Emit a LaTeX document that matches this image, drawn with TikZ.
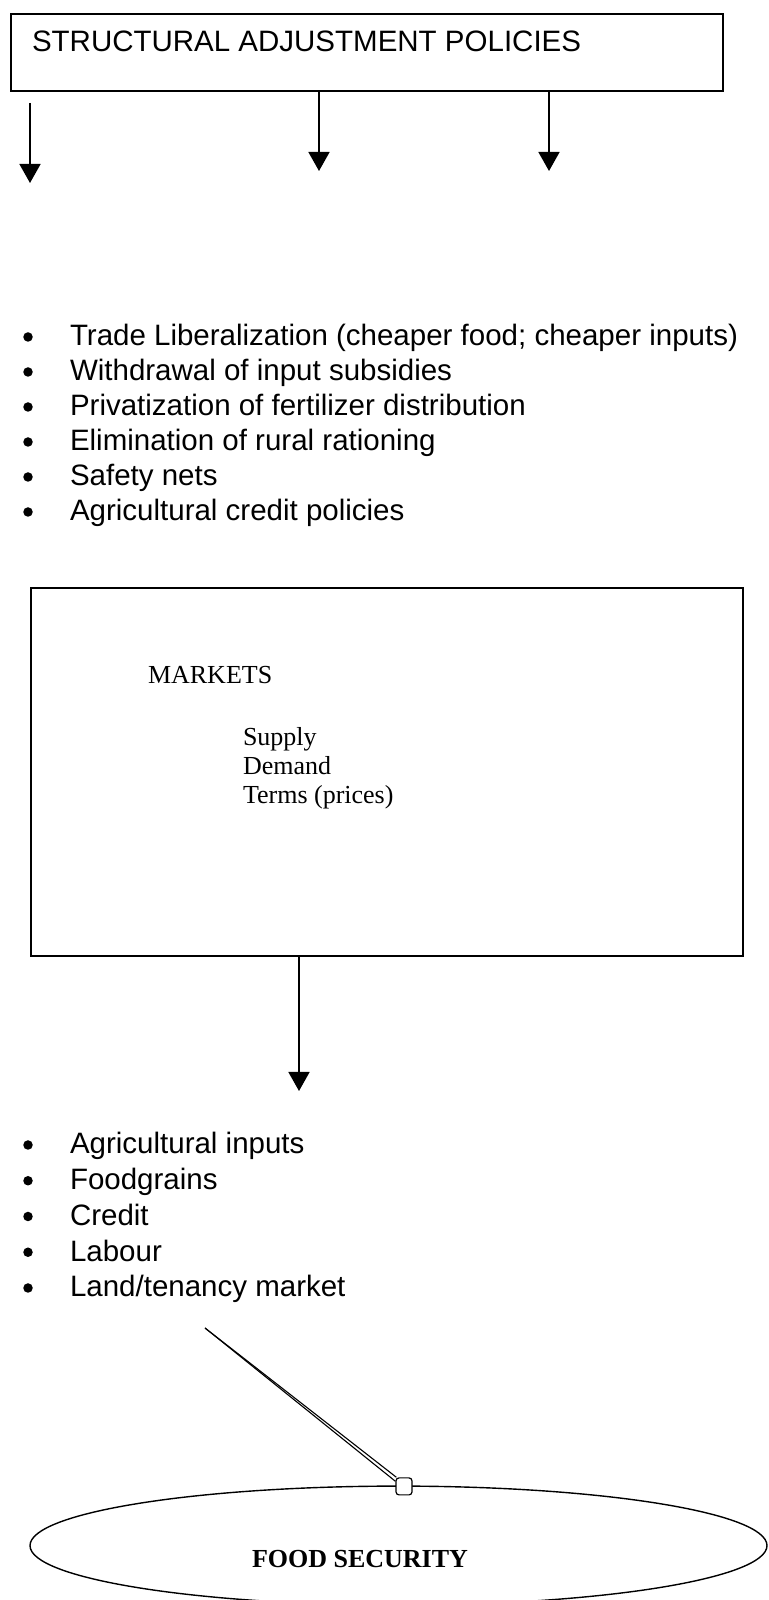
\documentclass[tikz,border=0pt]{standalone}
\usepackage{fontspec}
\setmainfont{Liberation Serif}
\newfontfamily\arialfont{Liberation Sans}
\usetikzlibrary{arrows.meta,positioning,shapes.geometric}
\tikzset{
  sans/.style={text=black,anchor=base west,inner sep=0pt,outer sep=0pt,font=\arialfont\fontsize{29.5}{34}\selectfont},
  serif/.style={text=black,anchor=base west,inner sep=0pt,outer sep=0pt,font=\fontsize{26}{29}\selectfont},
  dot/.style={circle,fill=black,inner sep=0pt,outer sep=0pt,minimum size=9.5pt},
  frame/.style={draw=black,line width=1.8pt,inner sep=0pt,outer sep=0pt,anchor=north west},
  down/.style={draw=black,line width=1.6pt,-{Triangle[length=19pt,width=21pt]}},
}
\begin{document}
\begin{tikzpicture}[x=1pt,y=1pt]
\definecolor{fillColor}{RGB}{255,255,255}
\path[use as bounding box,fill=fillColor] (0,0) rectangle (768,1600);

% policies box
\node[frame,minimum width=712pt,minimum height=77pt] (sap) at (11,1586) {};
\node[sans] (saptitle) at (32,1548) {STRUCTURAL ADJUSTMENT POLICIES};

\coordinate (sapleft) at (30,1497);
\coordinate (sapleftend) at (30,1417);
\coordinate (sapmidend) at (319,1429);
\coordinate (saprightend) at (549,1429);
\draw[down] (sapleft) -- (sapleftend);
\draw[down] (sap.south -| sapmidend) -- (sapmidend);
\draw[down] (sap.south -| saprightend) -- (saprightend);

% policy list
\foreach \txt [count=\i] in {Trade Liberalization (cheaper food; cheaper inputs),
    Withdrawal of input subsidies, Privatization of fertilizer distribution,
    Elimination of rural rationing, Safety nets, Agricultural credit policies}
{
  \node[dot] (polb\i) at (28,1298-35*\i) {};
  \node[sans] (pol\i) at (70,1289-35*\i) {\txt};
}

% markets box
\node[frame,minimum width=712pt,minimum height=368pt] (mkt) at (31,1012) {};
\node[serif] (mkttitle) at (148,916) {MARKETS};
\foreach \txt [count=\i] in {Supply, Demand, Terms (prices)}
  \node[serif] (mkt\i) at (243,883-29*\i) {\txt};

\coordinate (mktend) at (299,509);
\draw[down] (mkt.south -| mktend) -- (mktend);

% market list
\foreach \txt [count=\i] in {Agricultural inputs, Foodgrains, Credit, Labour,
    Land/tenancy market}
{
  \node[dot] (mktb\i) at (28,490.75-35.75*\i) {};
  \node[sans] (mktl\i) at (70,481.75-35.75*\i) {\txt};
}

% food security
\node[draw=black,ellipse,line width=1.4pt,minimum width=737pt,minimum height=119pt] (fs) at (398.5,54.4) {};
\node[serif,font=\bfseries\fontsize{26}{29}\selectfont] (fstitle) at (252,32) {FOOD SECURITY};
\node[draw=black,fill=white,line width=1.2pt,rounded corners=3pt,minimum width=16pt,minimum height=17pt,inner sep=0pt] (handle) at ([xshift=5.5pt,yshift=-1pt]fs.north) {};
\coordinate (pointer) at (205,272);
\draw[line width=1.1pt] (pointer) -- ([xshift=1pt]handle.north west);
\draw[line width=1.1pt] (pointer) -- ([yshift=-4pt]handle.north west);
\end{tikzpicture}
\end{document}
